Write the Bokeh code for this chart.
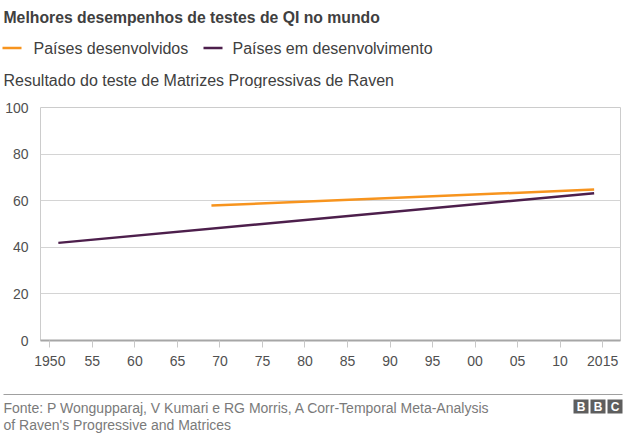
from bokeh.plotting import figure
from bokeh.models import FixedTicker, Range1d
from bokeh.layouts import column
from bokeh.core.properties import value
from bokeh.embed import file_html
from bokeh.resources import INLINE

# --- data -------------------------------------------------------------
developed_years = [1969, 2014]
developed_scores = [57.9, 64.8]
developing_years = [1951, 2014]
developing_scores = [41.9, 63.2]

x_ticks = [1950, 1955, 1960, 1965, 1970, 1975, 1980, 1985, 1990, 1995,
           2000, 2005, 2010, 2015]
x_tick_labels = ["1950", "55", "60", "65", "70", "75", "80", "85", "90",
                 "95", "00", "05", "10", "2015"]
y_ticks = [0, 20, 40, 60, 80, 100]

title = "Melhores desempenhos de testes de QI no mundo"
series_names = ["Países desenvolvidos", "Países em desenvolvimento"]
subtitle = "Resultado do teste de Matrizes Progressivas de Raven"
source_lines = ["Fonte: P Wongupparaj, V Kumari e RG Morris, A Corr-Temporal Meta-Analysis",
                "of Raven's Progressive and Matrices"]

ORANGE = "#f7941e"
PURPLE = "#4d1f4c"
TEXT = "#404040"
FONT = "Liberation Sans"

W = 625
HEAD_H = 88        # title, legend and subtitle strip
CHART_H = 297      # chart strip
FOOT_H = 48        # source strip


def strip(height):
    """A bare figure whose data units are pixels, y growing downwards."""
    f = figure(width=W, height=height, output_backend="svg",
               toolbar_location=None, x_range=Range1d(0, W),
               y_range=Range1d(height, 0), min_border=0,
               x_axis_type=None, y_axis_type=None, frame_align=False)
    f.outline_line_color = None
    f.grid.visible = False
    f.background_fill_color = "white"
    f.border_fill_color = "white"
    return f


def put_text(f, x, y, text, size, color=TEXT, style="normal", align="left"):
    f.text(x=[x], y=[y], text=[text], text_font=value(FONT),
           text_font_size=value(size), text_color=color,
           text_font_style=style, text_align=align, text_baseline="middle")


# --- header: title, legend, subtitle -----------------------------------
head = strip(HEAD_H)
put_text(head, 3, 17, title, "15.75px", style="bold")
head.segment(x0=[2], y0=[47.5], x1=[21], y1=[47.5], line_color=ORANGE, line_width=2.5)
put_text(head, 33, 48, series_names[0], "16px")
head.segment(x0=[203], y0=[47.5], x1=[222], y1=[47.5], line_color=PURPLE, line_width=2.5)
put_text(head, 232, 48, series_names[1], "16px")
put_text(head, 3, 80, subtitle, "16px")

# --- chart -------------------------------------------------------------
FL, FR, FT, FB = 40, 620, 19, 252     # frame inside the chart strip
p = figure(width=W, height=CHART_H, output_backend="svg", toolbar_location=None,
           x_range=Range1d(1948.9, 2017.1), y_range=Range1d(0, 100),
           min_border_left=FL, min_border_right=W - FR,
           min_border_top=FT, min_border_bottom=CHART_H - FB,
           frame_align=False)
p.background_fill_color = "white"
p.border_fill_color = "white"
p.outline_line_color = "#cccccc"
p.outline_line_width = 1

p.xaxis.ticker = FixedTicker(ticks=x_ticks)
p.xaxis.major_label_overrides = {t: l for t, l in zip(x_ticks, x_tick_labels)}
p.xaxis.axis_line_color = "#a6a6a6"
p.xaxis.axis_line_width = 2
p.xaxis.major_tick_line_color = "#c8c8c8"
p.xaxis.major_tick_in = 0
p.xaxis.major_tick_out = 7
p.xaxis.minor_tick_line_color = None
p.xaxis.major_label_standoff = 8
p.xaxis.major_label_text_font = FONT
p.xaxis.major_label_text_font_size = "14px"
p.xaxis.major_label_text_color = "#505050"

p.yaxis.ticker = FixedTicker(ticks=y_ticks)
p.yaxis.axis_line_color = None
p.yaxis.major_tick_line_color = None
p.yaxis.minor_tick_line_color = None
p.yaxis.major_tick_in = 0
p.yaxis.major_tick_out = 0
p.yaxis.major_label_standoff = 12
p.yaxis.major_label_text_font = FONT
p.yaxis.major_label_text_font_size = "14px"
p.yaxis.major_label_text_color = "#505050"

p.xgrid.grid_line_color = None
p.ygrid.ticker = FixedTicker(ticks=y_ticks)
p.ygrid.grid_line_color = "#d4d4d4"
p.ygrid.grid_line_width = 1

p.line(developing_years, developing_scores, line_color=PURPLE, line_width=2.5)
p.line(developed_years, developed_scores, line_color=ORANGE, line_width=2.5)

# --- footer: rule, source, logo ------------------------------------------
foot = strip(FOOT_H)
foot.segment(x0=[3], y0=[9], x1=[622], y1=[9], line_color="#a0a0a0", line_width=1)
put_text(foot, 3, 22.5, source_lines[0], "14px", color="#7a7a7a")
put_text(foot, 3, 39, source_lines[1], "14px", color="#7a7a7a")
logo_left = [573, 590, 607]
foot.quad(left=logo_left, right=[l + 15 for l in logo_left],
          top=[14] * 3, bottom=[28] * 3, fill_color="#5e5e5e", line_color=None)
foot.text(x=[l + 7.5 for l in logo_left], y=[21.5] * 3, text=list("BBC"),
          text_font=value(FONT), text_font_size=value("12px"),
          text_color="white", text_font_style="bold", text_align="center",
          text_baseline="middle")

layout = column(head, p, foot, spacing=0)
open("out.html", "w").write(file_html(layout, INLINE))
